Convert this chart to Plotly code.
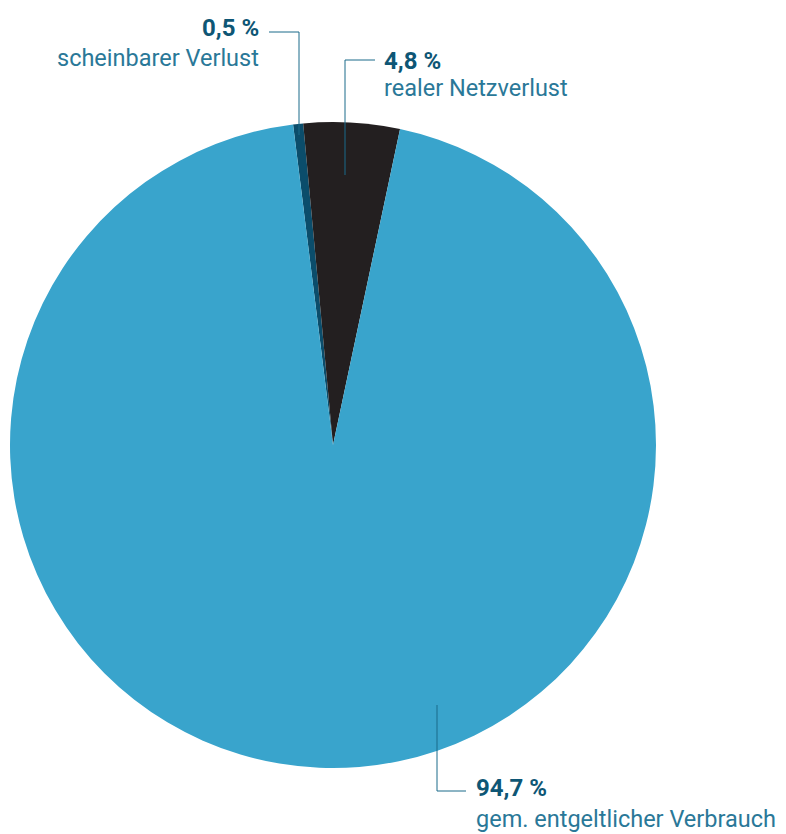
import plotly.graph_objects as go

# Data
labels = ["scheinbarer Verlust", "realer Netzverlust", "gem. entgeltlicher Verbrauch"]
values = [0.5, 4.8, 94.7]
value_texts = ["0,5 %", "4,8 %", "94,7 %"]
colors = ["#0b4d6b", "#231f20", "#39a4cc"]

OFF = 8  # page body margin
W, H = 786 - OFF, 834 - OFF
cx, cy, r = 333, 445, 323

def px(x):
    return (x - OFF) / W

def py(y):
    return 1 - (y - OFF) / H

fig = go.Figure(go.Pie(
    labels=labels,
    values=values,
    sort=False,
    direction="clockwise",
    rotation=-7.1,
    marker=dict(colors=colors, line=dict(width=0)),
    textinfo="none",
    hoverinfo="label+percent",
    showlegend=False,
    domain=dict(x=[px(cx - r), px(cx + r)], y=[py(cy + r), py(cy - r)]),
))

pct_color = "#0e5675"
lab_color = "#2a7898"
line_color = "#1b6a8a"
font_family = "Roboto"

# Leader lines (page pixel positions converted to paper)
leaders = [
    [(299, 135), (299, 32), (269, 32)],
    [(345, 175), (345, 60), (375, 60)],
    [(437, 705), (437, 791), (466, 791)],
]
for pts in leaders:
    path = "M " + " L ".join(f"{px(x)},{py(y)}" for x, y in pts)
    fig.add_shape(type="path", path=path, xref="paper", yref="paper",
                  line=dict(color=line_color, width=1))

# Labels: (x, anchor, y of percent, y of label)
label_pos = [
    (261, "right", 28, 58),
    (382, "left", 61, 88),
    (474, "left", 788, 819),
]
for (x, anc, yp, yl), vt, lab in zip(label_pos, value_texts, labels):
    fig.add_annotation(x=px(x), y=py(yp), xref="paper", yref="paper",
                       text=f"<b>{vt}</b>", showarrow=False, xanchor=anc, yanchor="middle",
                       font=dict(family=font_family, size=24, color=pct_color))
    fig.add_annotation(x=px(x), y=py(yl), xref="paper", yref="paper",
                       text=lab, showarrow=False, xanchor=anc, yanchor="middle",
                       font=dict(family=font_family, size=23.5, color=lab_color))

fig.update_layout(
    width=W, height=H,
    margin=dict(l=0, r=0, t=0, b=0),
    paper_bgcolor="white",
    plot_bgcolor="white",
)

fig.write_html("out.html")
